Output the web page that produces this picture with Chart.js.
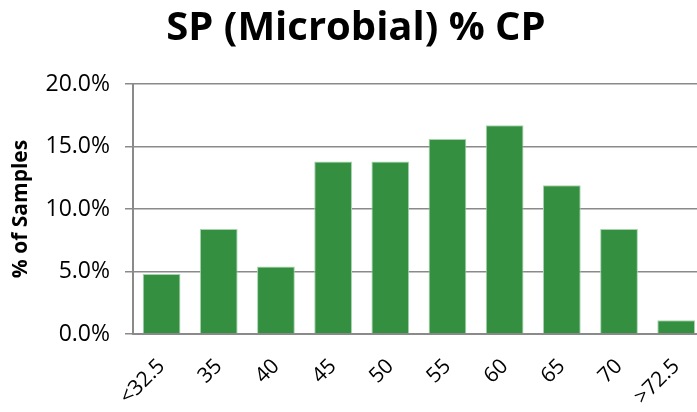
<!DOCTYPE html>
<html>
<head>
<meta charset="utf-8">
<script src="https://cdn.jsdelivr.net/npm/chart.js@4/dist/chart.umd.min.js"></script>
<style>
  html, body { margin: 0; padding: 0; background: #fff; overflow: hidden; }
  #wrap { width: 706px; height: 412px; }
</style>
</head>
<body>
<div id="wrap"><canvas id="chart" width="706" height="412"></canvas></div>
<script>
// chart data
const categories = ["<32.5", "35", "40", "45", "50", "55", "60", "65", "70", ">72.5"];
const samplePct = [4.8, 8.4, 5.4, 13.8, 13.8, 15.6, 16.7, 11.9, 8.4, 1.1];
const yTicks = [0, 5, 10, 15, 20];

const fontFamily = "'Open Sans', Lato, sans-serif";
const gray = "#8a8a8a";

const ctx = document.getElementById("chart").getContext("2d");
const chart = new Chart(ctx, {
  type: "bar",
  data: {
    labels: categories,
    datasets: [{
      label: "% of Samples",
      data: samplePct,
      backgroundColor: "#348f41",
      borderColor: "#a6d3ad",
      borderWidth: 1,
      categoryPercentage: 1,
      barPercentage: 0.66,
    }]
  },
  options: {
    responsive: false,
    animation: false,
    layout: { padding: { left: 0, right: -6, top: 0, bottom: 0 } },
    plugins: {
      legend: { display: false },
      tooltip: { enabled: false },
      title: {
        display: true,
        text: "SP (Microbial) % CP",
        color: "#000",
        font: { family: fontFamily, size: 40, weight: "bold" },
        padding: { top: 5, bottom: 31 },
      },
    },
    scales: {
      x: {
        afterFit: (scale) => {
          scale.height = 78;
        },
        grid: { display: false },
        border: { display: true, color: gray, width: 2 },
        ticks: {
          color: "#000",
          font: { family: fontFamily, size: 21 },
          minRotation: 45,
          maxRotation: 45,
          padding: 12,
        },
      },
      y: {
        min: 0,
        max: 20,
        afterBuildTicks: (scale) => {
          scale.ticks = yTicks.map((v) => ({ value: v }));
        },
        afterFit: (scale) => {
          scale.width = 133;
        },
        grid: { color: gray, lineWidth: 1.5, tickLength: 8, drawTicks: true },
        border: { display: true, color: gray, width: 2 },
        ticks: {
          color: "#000",
          padding: 15,
          font: { family: fontFamily, size: 23 },
          callback: (v) => v.toFixed(1) + "%",
        },
        title: {
          display: true,
          text: "% of Samples",
          color: "#000",
          font: { family: fontFamily, size: 21, weight: "bold" },
          padding: { top: 8, bottom: 0 },
        },
      },
    },
  },
});
</script>
</body>
</html>
